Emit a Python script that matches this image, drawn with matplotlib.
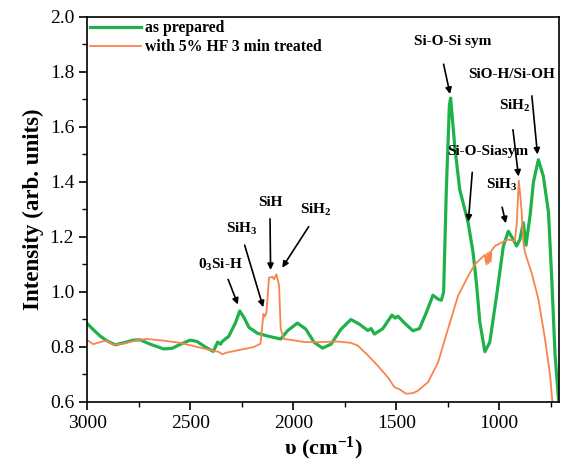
import numpy as np
import matplotlib
matplotlib.use('Agg')
import matplotlib.pyplot as plt
from matplotlib.ticker import MultipleLocator

plt.rcParams['font.family'] = 'Liberation Serif'
plt.rcParams['mathtext.fontset'] = 'custom'
plt.rcParams['mathtext.rm'] = 'Liberation Serif:bold'
plt.rcParams['mathtext.bf'] = 'Liberation Serif:bold'
plt.rcParams['mathtext.default'] = 'rm'

#################################
# as prepared
v_green = [3000, 2971, 2938, 2906, 2865, 2825, 2776, 2743, 2694, 2629, 2589, 2548, 2500, 2467,
           2427, 2389, 2378, 2367, 2353, 2345, 2313, 2280, 2260, 2239, 2215, 2174, 2126, 2061,
           2028, 1980, 1939, 1899, 1858, 1817, 1768, 1720, 1679, 1638, 1622, 1606, 1565, 1521,
           1505, 1492, 1460, 1419, 1387, 1354, 1322, 1297, 1281, 1270, 1257, 1242, 1236, 1216,
           1192, 1151, 1127, 1111, 1094, 1070, 1046, 1013, 980, 956, 932, 916, 900, 883, 870,
           850, 834, 810, 786, 761, 745, 729, 712]
green = [0.885, 0.863, 0.84, 0.823, 0.808, 0.815, 0.825, 0.826, 0.81, 0.793, 0.795, 0.81, 0.825, 0.82,
         0.80, 0.784, 0.80, 0.818, 0.81, 0.82, 0.839, 0.889, 0.931, 0.907, 0.871, 0.85, 0.84, 0.829,
         0.859, 0.887, 0.865, 0.817, 0.796, 0.81, 0.865, 0.90, 0.883, 0.86, 0.867, 0.847, 0.867, 0.916,
         0.905, 0.912, 0.887, 0.859, 0.867, 0.925, 0.988, 0.974, 0.97, 1.0, 1.37, 1.68, 1.705, 1.53,
         1.373, 1.252, 1.143, 1.034, 0.889, 0.783, 0.817, 0.986, 1.167, 1.221, 1.191, 1.167, 1.19, 1.252, 1.17,
         1.28, 1.40, 1.481, 1.421, 1.29, 1.046, 0.77, 0.61]

# with 5% HF 3 min treated
v_orange = [3000, 2971, 2938, 2906, 2873, 2825, 2760, 2711, 2629, 2548, 2467, 2386, 2362, 2345,
            2321, 2256, 2191, 2159, 2145, 2138, 2130, 2118, 2101, 2093, 2082, 2069, 2061, 2045,
            2012, 1947, 1866, 1785, 1720, 1687, 1638, 1590, 1541, 1509, 1484, 1452, 1420, 1395,
            1346, 1297, 1249, 1200, 1151, 1119, 1070, 1062, 1058, 1052, 1048, 1042, 1038, 1021,
            989, 956, 924, 915, 905, 898, 891, 883, 875, 843, 810, 778, 753, 742]
orange = [0.825, 0.81, 0.818, 0.823, 0.808, 0.812, 0.825, 0.829, 0.823, 0.815, 0.80, 0.786, 0.782, 0.774,
          0.78, 0.79, 0.80, 0.812, 0.92, 0.91, 0.925, 1.052, 1.055, 1.046, 1.064, 1.025, 0.865, 0.829,
          0.826, 0.818, 0.818, 0.82, 0.815, 0.805, 0.77, 0.732, 0.69, 0.654, 0.646, 0.63, 0.632, 0.641,
          0.672, 0.744, 0.865, 0.986, 1.058, 1.10, 1.135, 1.10, 1.14, 1.105, 1.145, 1.11, 1.15, 1.167,
          1.18, 1.191, 1.185, 1.25, 1.405, 1.35, 1.29, 1.18, 1.143, 1.07, 0.974, 0.83, 0.696, 0.60]

# label, text position, arrow start, arrow tip
notes = [
    ('0$_3$Si-H', (2353, 1.10), (2321, 1.055), (2264, 0.945)),
    ('SiH$_3$', (2248, 1.228), (2240, 1.18), (2142, 0.935)),
    ('SiH', (2113, 1.325), (2113, 1.276), (2110, 1.07)),
    ('SiH$_2$', (1890, 1.30), (1918, 1.246), (2061, 1.08)),
    ('Si-O-Si sym', (1224, 1.91), (1273, 1.838), (1236, 1.71)),
    ('SiO-H/Si-OH', (940, 1.79), (843, 1.723), (813, 1.49)),
    ('SiH$_2$', (924, 1.675), (935, 1.60), (905, 1.41)),
    ('Si-O-Siasym', (1054, 1.512), (1130, 1.445), (1151, 1.246)),
    ('SiH$_3$', (989, 1.39), (989, 1.318), (965, 1.24)),
]
#################################

fig = plt.figure(figsize=(5.61, 4.65), dpi=100)
ax = fig.add_axes([0.1556, 0.1355, 0.8408, 0.828])

ax.plot(v_green, green, color='#1fb24a', lw=2.3, label='as prepared')
ax.plot(v_orange, orange, color='#f7844e', lw=1.3, label='with 5% HF 3 min treated')

for label, tpos, start, tip in notes:
    ax.text(tpos[0], tpos[1], label, ha='center', va='center', fontsize=11, fontweight='bold')
    ax.annotate('', xy=tip, xytext=start,
                arrowprops=dict(arrowstyle='-|>', color='black', lw=1.2, mutation_scale=9))

ax.set_xlim(3000, 710)
ax.set_ylim(0.6, 2.0)
ax.xaxis.set_major_locator(MultipleLocator(500))
ax.xaxis.set_minor_locator(MultipleLocator(250))
ax.yaxis.set_major_locator(MultipleLocator(0.2))
ax.yaxis.set_minor_locator(MultipleLocator(0.1))
ax.tick_params(which='major', direction='out', length=6, width=1.2, labelsize=14)
ax.tick_params(which='minor', direction='out', length=3.5, width=1.0)
ax.yaxis.set_major_formatter(matplotlib.ticker.FormatStrFormatter('%.1f'))
for s in ax.spines.values():
    s.set_linewidth(1.2)

ax.set_xlabel('υ (cm$^{-1}$)', fontsize=16, fontweight='bold', labelpad=2)
ax.set_ylabel('Intensity (arb. units)', fontsize=16.5, fontweight='bold', labelpad=4)

leg = ax.legend(loc='upper left', frameon=False, prop={'size': 11.3, 'weight': 'bold'},
                handlelength=3.2, borderaxespad=0.05, borderpad=0.15, labelspacing=0.2,
                handletextpad=0.3)

fig.savefig('out.png', dpi=100)
